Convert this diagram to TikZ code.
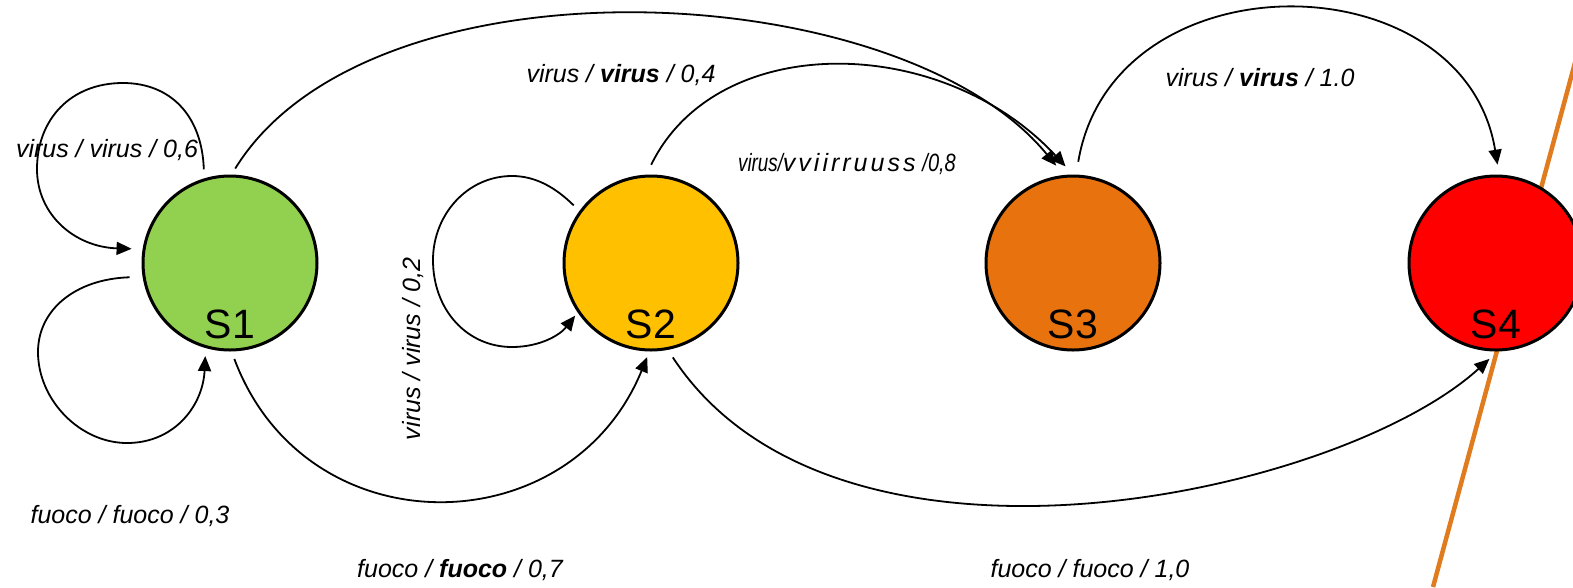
\documentclass[tikz,border=0pt]{standalone}
\usepackage{fontspec}
\usepackage{graphicx}
\setmainfont{Liberation Sans}
\usetikzlibrary{arrows.meta,calc}
\definecolor{cgreen}{HTML}{92D050}
\definecolor{cgold}{HTML}{FFC000}
\definecolor{corange}{HTML}{E8720E}
\definecolor{cred}{HTML}{FF0000}
\definecolor{cline}{HTML}{E07B1E}
\begin{document}
\begin{tikzpicture}[x=1pt,y=-1pt,
  state/.style={circle, draw=black, line width=3pt, minimum size=174pt, inner sep=0pt},
  slab/.style={font=\fontsize{41}{48}\selectfont, inner sep=0pt, anchor=base},
  edge/.style={line width=1.8pt, -{Triangle[length=15pt,width=13pt]}},
  lab/.style={font=\fontsize{25}{29}\selectfont\itshape, inner sep=0pt}]
\useasboundingbox (0,0) rectangle (1573,587);
\clip (0,0) rectangle (1573,587);
% orange line (behind S4)
\coordinate (o1) at (1592,0);
\coordinate (o2) at (1433,587);
\draw[cline, line width=4.5pt] (o1) -- (o2);
% states
\node[state, fill=cgreen]  (S1) at (230,263) {};
\node[state, fill=cgold]   (S2) at (651,263) {};
\node[state, fill=corange] (S3) at (1073,263) {};
\node[state, fill=cred]    (S4) at (1496,263) {};
\node[slab] (T1) at ([yshift=-75pt]S1.center) {S1};
\node[slab] (T2) at ([yshift=-75pt]S2.center) {S2};
\node[slab] (T3) at ([yshift=-75pt]S3.center) {S3};
\node[slab] (T4) at ([yshift=-75pt]S4.center) {S4};
% S1 loops
\draw[edge, shorten <=9pt, shorten >=11pt] (S1.107) .. controls (202,115) and (170,83) .. (123,83)
  .. controls (70,83) and (37,120) .. (37,169) .. controls (37,215) and (75,247) .. (S1.171);
\draw[edge, shorten <=13pt, shorten >=8pt] (S1.189) .. controls (75,279) and (38,310) .. (38,352)
  .. controls (38,400) and (80,443) .. (127,443) .. controls (175,443) and (203,405) .. (S1.254);
% top arcs
\draw[edge, shorten <=7pt, shorten >=12pt] (S1.89) .. controls (370,-50) and (900,-25) .. (S3.96);
\draw[edge, shorten <=11pt, shorten >=11pt] (S2.93) .. controls (717,30) and (942,33) .. (S3.90);
\draw[edge, shorten <=13pt, shorten >=10pt] (S3.88) .. controls (1113,-45) and (1464,-42) .. (S4.88);
% S2 loop
\draw[edge, shorten <=8pt, shorten >=4pt] (S2.144) .. controls (555,187) and (535,176) .. (512,176)
  .. controls (467,176) and (433,215) .. (433,260) .. controls (433,310) and (467,347) .. (512,347)
  .. controls (540,347) and (560,335) .. (S2.214);
% bottom arcs
\draw[edge, shorten <=8pt, shorten >=6pt] (S1.271) .. controls (306,550) and (570,546) .. (S2.269);
\draw[edge, shorten <=9pt, shorten >=11pt] (S2.281) .. controls (836,606) and (1340,495) .. (S4.271);
% labels
\node[lab] (L1) at (107,150) {virus / virus / 0,6};
\node[lab] (L2) at (130,516) {fuoco / fuoco / 0,3};
\node[lab, rotate=90] (L3) at (413,349) {virus / virus / 0,2};
\node[lab] (L4) at (621,75) {virus / \textbf{virus} / 0,4};
\node[lab] (L5) at (847,164) {\scalebox{0.75}[1]{virus/}v\kern3pt v\kern3pt i\kern3pt i\kern3pt r\kern3pt r\kern3pt u\kern3pt u\kern3pt s\kern3pt s\ \scalebox{0.8}[1]{/0,8}};
\node[lab] (L6) at (1260,78) {virus / \textbf{virus} / 1.0};
\node[lab] (L7) at (460,570) {fuoco / \textbf{fuoco} / 0,7};
\node[lab] (L8) at (1090,570) {fuoco / fuoco / 1,0};
\end{tikzpicture}
\end{document}
